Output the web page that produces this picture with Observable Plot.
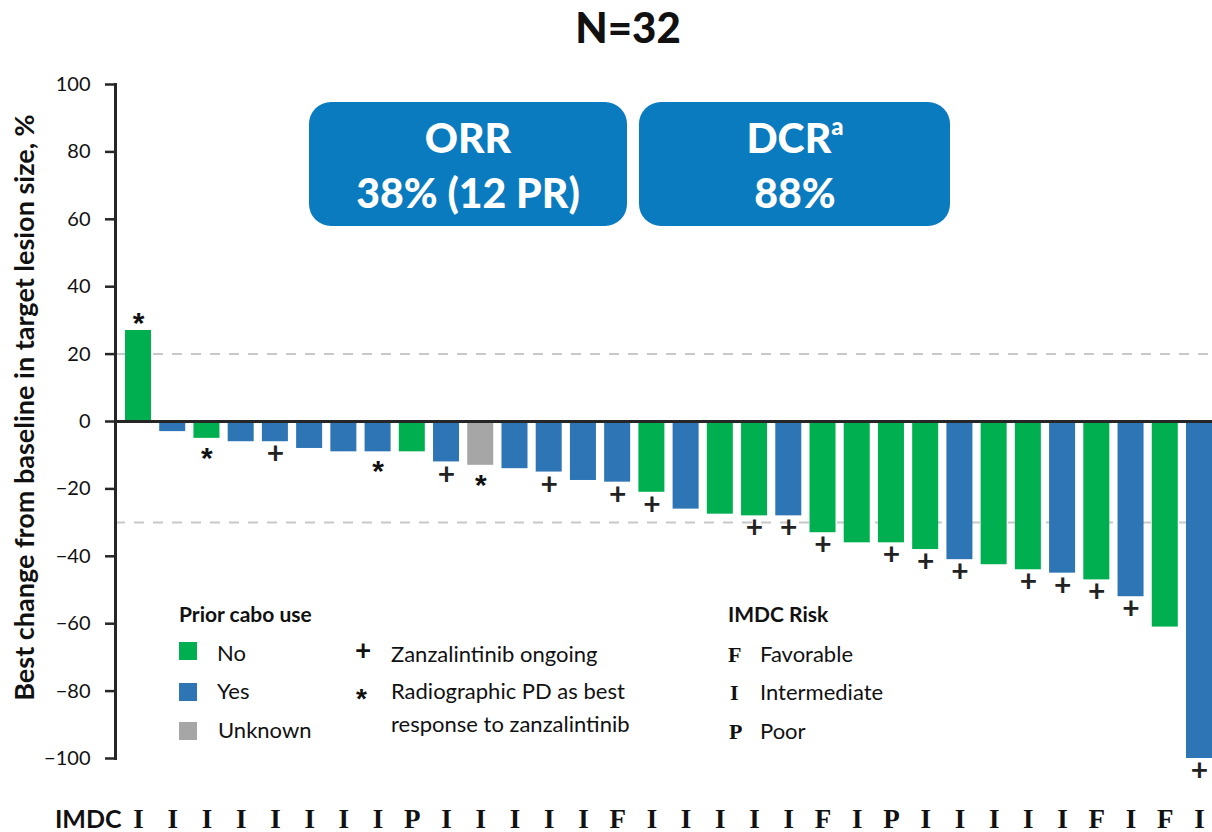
<!DOCTYPE html>
<html><head><meta charset="utf-8">
<script src="https://cdn.jsdelivr.net/npm/d3@7"></script>
<script src="https://cdn.jsdelivr.net/npm/@observablehq/plot@0.6"></script>
<style>
body{margin:0;background:#fff;font-family:Lato,sans-serif;}
#wrap{position:relative;width:1212px;height:832px;overflow:hidden;background:#fff}
#wrap svg{position:absolute;left:0;top:0}
.t{position:absolute;white-space:nowrap;line-height:1.2;color:#111}
.box{position:absolute;background:#0A7BBE;border-radius:22px}
.sw{position:absolute;width:18px;height:18px}
</style></head><body><div id="wrap"></div>
<script>
// ---- data ----
const imdc = ["I","I","I","I","I","I","I","I","P","I","I","I","I","I","F","I","I","I","I","I","F","I","P","I","I","I","I","I","F","I","F","I"];
const values = [27,-3,-5,-6,-6,-8,-9,-9,-9,-12,-13,-14,-15,-17.5,-18,-21,-26,-27.5,-28,-28,-33,-36,-36,-38,-41,-42.5,-44,-45,-47,-52,-61,-100];
const cabo = ["No","Yes","No","Yes","Yes","Yes","Yes","Yes","No","Yes","Unknown","Yes","Yes","Yes","Yes","No","Yes","No","No","Yes","No","No","No","No","Yes","No","No","Yes","No","Yes","No","Yes"];
const markers = ["*","","*","","+","","","*","","+","*","","+","","+","+","","","+","+","+","","+","+","+","","+","+","+","+","","+"];
const caboLevels = ["No","Yes","Unknown"];
const caboColors = ["#00B050","#2E75B6","#A6A6A6"];
const yTicks = [-100,-80,-60,-40,-20,0,20,40,60,80,100];
const refLines = [20,-30];
const yLabel = "Best change from baseline in target lesion size, %";

const data = values.map((v,i)=>({i, value:v, cabo:cabo[i], imdc:imdc[i], marker:markers[i]}));
const plusD = data.filter(d=>d.marker==="+");
const astNeg = data.filter(d=>d.marker==="*" && d.value<0);
const astPos = data.filter(d=>d.marker==="*" && d.value>=0);
const fmt = d => d < 0 ? "\u2212" + (-d) : String(d);
const astFont = "Liberation Sans, Arial, sans-serif";

const chart = Plot.plot({
  width:1212, height:832,
  marginLeft:115, marginRight:0, marginTop:84, marginBottom:74,
  style:{fontFamily:"Lato, sans-serif", background:"transparent", color:"#111", overflow:"visible"},
  x:{type:"band", domain:d3.range(values.length), paddingInner:0.24, paddingOuter:0.146, align:1, round:false, axis:null},
  y:{domain:[-100,100], axis:null},
  color:{domain:caboLevels, range:caboColors},
  marks:[
    Plot.ruleY(refLines, {stroke:"#C8C8C8", strokeWidth:2, strokeDasharray:"10,9"}),
    Plot.barY(data, {x:"i", y:"value", fill:"cabo"}),
    Plot.ruleY([0], {stroke:"#262626", strokeWidth:3}),
    Plot.frame({anchor:"left", stroke:"#262626", strokeWidth:3}),
    Plot.axisY({ticks:yTicks, tickSize:10, tickPadding:15, fontSize:20, tickFormat:fmt, strokeWidth:2.5, stroke:"#262626", label:null}),
    Plot.text([yLabel], {frameAnchor:"left", textAnchor:"middle", rotate:-90, dx:-90, dy:-14, fontSize:27, fontWeight:"bold", fill:"#111"}),
    Plot.text(plusD, {x:"i", y:"value", text:"marker", dy:13, fontSize:30, fontWeight:"bold", fill:"#222"}),
    Plot.text(astNeg, {x:"i", y:"value", text:"marker", dy:20, fontSize:30, fontWeight:"bold", fontFamily:astFont, fill:"#111"}),
    Plot.text(astPos, {x:"i", y:"value", text:"marker", dy:-7, fontSize:30, fontWeight:"bold", fontFamily:astFont, fill:"#111"}),
    Plot.text(data, {x:"i", text:"imdc", frameAnchor:"bottom", lineAnchor:"bottom", dy:69, fontSize:27, fontWeight:"bold", fontFamily:"Liberation Serif, serif", fill:"#111"}),
    Plot.text(["IMDC"], {frameAnchor:"bottom-left", textAnchor:"end", lineAnchor:"bottom", dx:6, dy:69, fontSize:25, fontWeight:"bold", fill:"#111"})
  ]
});
const wrap = document.getElementById("wrap");
wrap.appendChild(chart);

// ---- annotations (HTML) ----
function T(txt, x, b, fs, o={}){
  const el = document.createElement("div");
  el.className = "t";
  const fam = o.family || "Lato, sans-serif";
  const asc = o.asc || 0.987;
  el.style.fontFamily = fam;
  el.style.fontSize = fs + "px";
  el.style.fontWeight = o.w || 400;
  if (o.color) el.style.color = o.color;
  el.style.top = (b - asc*fs) + "px";
  el.style.left = x + "px";
  if (o.center) el.style.transform = "translateX(-50%)";
  el.innerHTML = txt;
  wrap.appendChild(el);
}
function box(x, y, w, h){
  const el = document.createElement("div");
  el.className = "box";
  Object.assign(el.style, {left:x+"px", top:y+"px", width:w+"px", height:h+"px"});
  wrap.appendChild(el);
}
function sw(x, y, c){
  const el = document.createElement("div");
  el.className = "sw";
  Object.assign(el.style, {left:x+"px", top:y+"px", background:c});
  wrap.appendChild(el);
}
T("N=32", 628, 43, 42, {w:900, center:true});
box(309, 102, 318, 124);
box(639, 102, 311, 124);
T("ORR", 468, 153, 41, {w:900, center:true, color:"#fff"});
T("38% (12 PR)", 468, 208, 41, {w:900, center:true, color:"#fff"});
T("DCR<span style='font-size:24px;position:relative;top:-18px'>a</span>", 795, 153, 41, {w:900, center:true, color:"#fff"});
T("88%", 795, 208, 41, {w:900, center:true, color:"#fff"});

T("Prior cabo use", 179, 622, 21, {w:700});
sw(179, 642, caboColors[0]); sw(179, 683, caboColors[1]); sw(179, 722, caboColors[2]);
T("No", 217, 662, 22); T("Yes", 217, 700, 22); T("Unknown", 218, 739, 22);
T("+", 355, 661, 28, {w:700});
T("*", 356, 707, 28, {w:700, family:astFont, asc:0.905});
T("Zanzalintinib ongoing", 391, 663, 22);
T("Radiographic PD as best", 391, 700, 22);
T("response to zanzalintinib", 391, 733, 22);

T("IMDC Risk", 728, 622, 21, {w:700});
const ser = {w:700, asc:0.9375, family:"Liberation Serif, serif"};
T("F", 728, 663, 22, ser); T("I", 730, 701, 22, ser); T("P", 729, 740, 22, ser);
T("Favorable", 760, 663, 22); T("Intermediate", 760, 701, 22); T("Poor", 760, 740, 22);
</script></body></html>
